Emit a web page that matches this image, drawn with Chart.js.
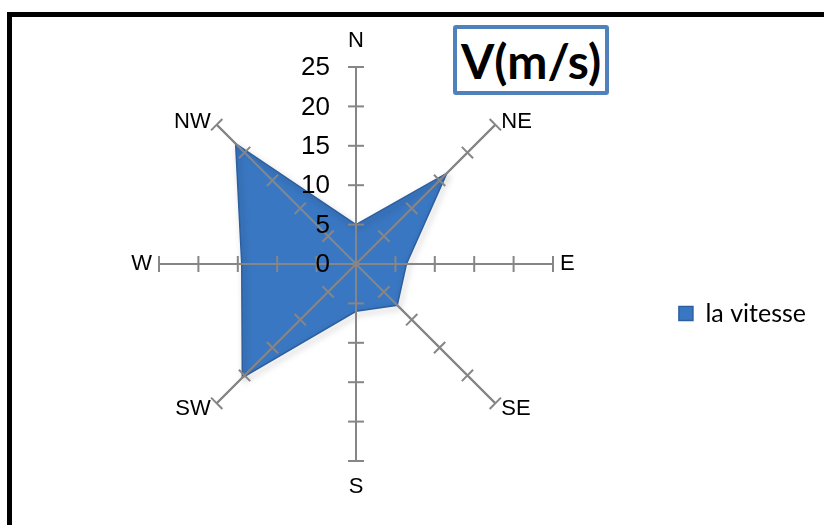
<!DOCTYPE html>
<html><head><meta charset="utf-8">
<script src="https://cdn.jsdelivr.net/npm/chart.js@4/dist/chart.umd.min.js"></script>
<style>
html,body{margin:0;padding:0;background:#fff;overflow:hidden;width:824px;height:525px;}
#frame{position:absolute;left:7px;top:12px;width:900px;height:600px;border:5px solid #000;box-sizing:border-box;}
#c{position:absolute;left:0;top:0;}
#title{position:absolute;left:453px;top:25px;width:156px;height:70px;box-sizing:border-box;border:4px solid #4F81BD;border-radius:3px;font:bold 48px Lato,'Open Sans',sans-serif;color:#000;display:flex;align-items:center;justify-content:center;background:#fff;}
</style></head><body>
<div id="frame"></div>
<canvas id="c" width="824" height="525"></canvas>
<div id="title">V(m/s)</div>
<script>
const directions = ['N', 'NE', 'E', 'SE', 'S', 'SW', 'W', 'NW'];
const vitesse = [5, 16.3, 6.4, 7.4, 6, 20.4, 14.5, 21.6];
const tickValues = [0, 5, 10, 15, 20, 25];
const seriesName = 'la vitesse';

const AXIS_GRAY = '#868686';

const shadowPlugin = {
  id: 'shadow',
  beforeDatasetDraw(chart) {
    const ctx = chart.ctx;
    ctx.save();
    ctx.shadowColor = 'rgba(0,0,0,0.35)';
    ctx.shadowBlur = 6;
    ctx.shadowOffsetX = 2;
    ctx.shadowOffsetY = 3;
  },
  afterDatasetDraw(chart) {
    chart.ctx.restore();
  }
};

const axisDecor = {
  id: 'axisDecor',
  afterDatasetsDraw(chart) {
    const s = chart.scales.r;
    const ctx = chart.ctx;
    ctx.save();
    ctx.strokeStyle = AXIS_GRAY;
    ctx.lineWidth = 2;
    // spokes drawn over the filled area
    directions.forEach((d, i) => {
      const o = s.getPointPositionForValue(i, s.min);
      const e = s.getPointPositionForValue(i, s.max);
      ctx.beginPath();
      ctx.moveTo(o.x, o.y);
      ctx.lineTo(e.x, e.y);
      ctx.stroke();
    });
    // cross tick marks on every spoke
    directions.forEach((d, i) => {
      const ang = s.getIndexAngle(i) - Math.PI / 2;
      const px = -Math.sin(ang), py = Math.cos(ang);
      tickValues.forEach(v => {
        if (v === tickValues[0]) return;
        const p = s.getPointPositionForValue(i, v);
        ctx.beginPath();
        ctx.moveTo(p.x - px * 8, p.y - py * 8);
        ctx.lineTo(p.x + px * 8, p.y + py * 8);
        ctx.stroke();
      });
    });
    // value labels on the N spoke
    ctx.fillStyle = '#000';
    ctx.font = '26px "Liberation Sans", Arial, sans-serif';
    ctx.textAlign = 'right';
    ctx.textBaseline = 'middle';
    tickValues.forEach(v => {
      const p = s.getPointPositionForValue(0, v);
      ctx.fillText(String(v), p.x - 26, p.y + 1);
    });
    // direction labels
    ctx.font = '22px "Liberation Sans", Arial, sans-serif';
    directions.forEach((d, i) => {
      const e = s.getPointPositionForValue(i, s.max);
      const ang = s.getIndexAngle(i) - Math.PI / 2;
      const cx = Math.cos(ang), cy = Math.sin(ang);
      let x = e.x, y = e.y, align = 'center';
      if (Math.abs(cx) < 0.01) {
        y += cy * 26;
      } else if (Math.abs(cy) < 0.01) {
        x += cx * 7;
        align = cx > 0 ? 'left' : 'right';
      } else {
        x += cx > 0 ? 6 : -6;
        align = cx > 0 ? 'left' : 'right';
        y += cy < 0 ? -3 : 6;
      }
      ctx.textAlign = align;
      ctx.fillText(d, x, y);
    });
    ctx.restore();
  }
};

new Chart(document.getElementById('c'), {
  type: 'radar',
  data: {
    labels: directions,
    datasets: [{
      label: seriesName,
      data: vitesse,
      backgroundColor: '#3A77C2',
      borderColor: '#2D5F9F',
      borderWidth: 1.5,
      pointRadius: 0,
      pointHoverRadius: 0,
      tension: 0,
      fill: true
    }]
  },
  options: {
    responsive: false,
    animation: false,
    devicePixelRatio: 1,
    layout: { padding: { left: 45, right: 8, top: 67, bottom: 64 } },
    scales: {
      r: {
        min: 0,
        max: 25,
        ticks: { display: false, stepSize: 5 },
        grid: { display: false },
        angleLines: { display: true, color: AXIS_GRAY, lineWidth: 2 },
        pointLabels: { display: false }
      }
    },
    plugins: {
      tooltip: { enabled: false },
      legend: {
        position: 'right',
        title: { display: true, text: '', font: { size: 10 }, padding: { top: 87, bottom: 0 } },
        labels: {
          boxWidth: 14,
          boxHeight: 14,
          padding: 10,
          color: '#000',
          font: { family: 'Lato, "Open Sans", sans-serif', size: 25 }
        }
      }
    }
  },
  plugins: [shadowPlugin, axisDecor]
});
</script>
</body></html>
